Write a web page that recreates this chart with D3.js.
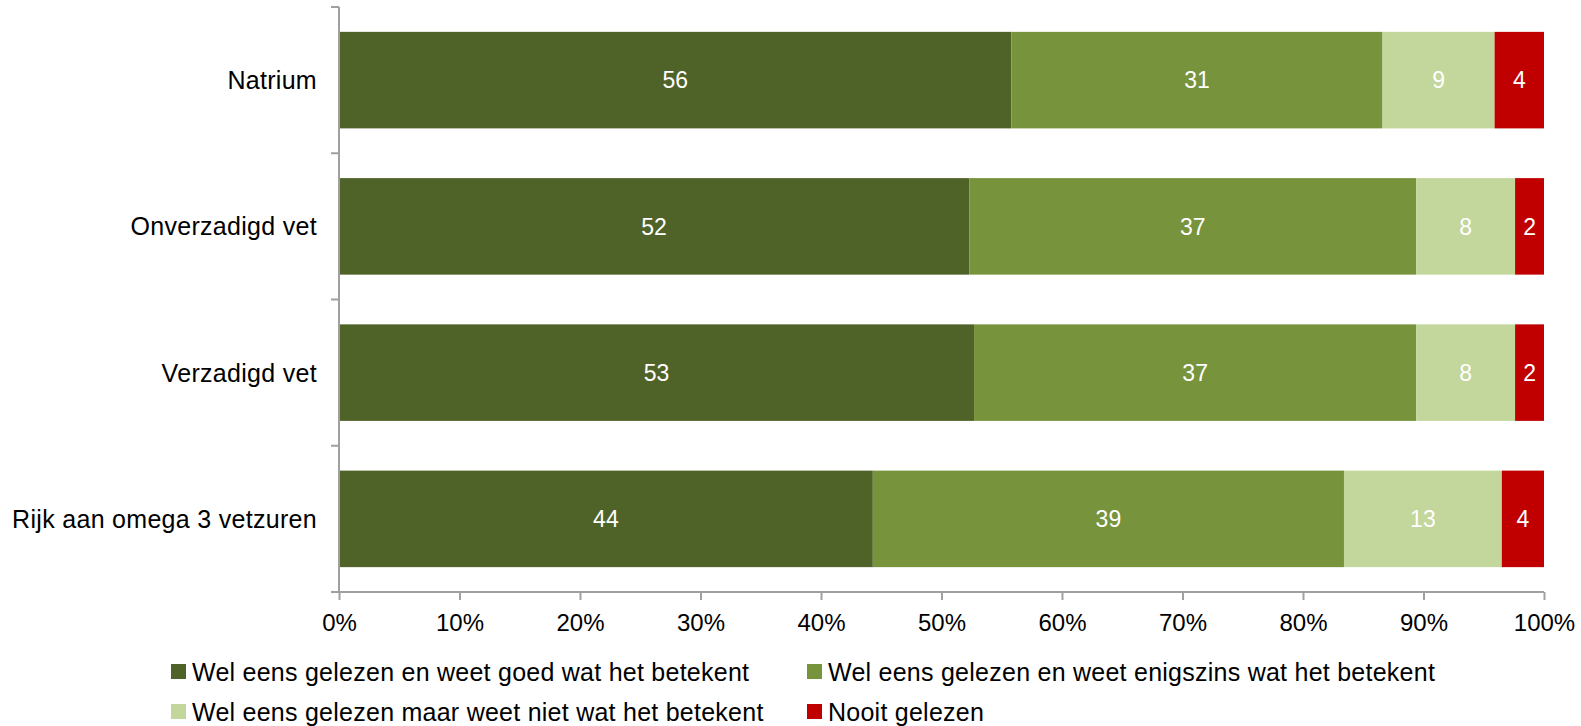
<!DOCTYPE html>
<html lang="nl">
<head>
<meta charset="utf-8">
<title>Gelezen op etiket</title>
<script src="https://d3js.org/d3.v7.min.js"></script>
<style>
  body { margin: 0; background: #fff; }
  svg text { font-family: "Liberation Sans", Arial, sans-serif; }
</style>
</head>
<body>
<div id="graph"></div>
<script>
// categories (top to bottom)
var categories = ["Natrium", "Onverzadigd vet", "Verzadigd vet", "Rijk aan omega 3 vetzuren"];

// series names
var seriesNames = [
  "Wel eens gelezen en weet goed wat het betekent",
  "Wel eens gelezen en weet enigszins wat het betekent",
  "Wel eens gelezen maar weet niet wat het betekent",
  "Nooit gelezen"
];

// series values (percent, per category)
var goed      = [55.8, 52.3, 52.7, 44.3];
var enigszins = [30.8, 37.1, 36.7, 39.1];
var niet      = [9.3, 8.2, 8.2, 13.1];
var nooit     = [4.1, 2.4, 2.4, 3.5];

var tickLabels = ["0%", "10%", "20%", "30%", "40%", "50%", "60%", "70%", "80%", "90%", "100%"];

var colors = ["#4F6228", "#77933C", "#C3D69B", "#C00000"];

// plot area
var W = 1581, H = 726;
var plot = { x0: 339, x1: 1544, y0: 7, y1: 592 };

var svg = d3.select("#graph").append("svg")
  .attr("width", W)
  .attr("height", H);

var rows = categories.map(function(c, i) {
  return { cat: c, s0: goed[i], s1: enigszins[i], s2: niet[i], s3: nooit[i] };
});
var keys = ["s0", "s1", "s2", "s3"];

var stack = d3.stack().keys(keys).offset(d3.stackOffsetExpand);
var series = stack(rows);

var x = d3.scaleLinear().domain([0, 1]).range([plot.x0, plot.x1]);
var y = d3.scaleBand().domain(categories).range([plot.y0, plot.y1]).paddingInner(0.34).paddingOuter(0.17);

// bars
var groups = svg.append("g").selectAll("g")
  .data(series)
  .enter().append("g")
  .attr("fill", function(d, i) { return colors[i]; });

groups.selectAll("rect")
  .data(function(d) { return d; })
  .enter().append("rect")
  .attr("x", function(d) { return x(d[0]); })
  .attr("y", function(d) { return y(d.data.cat); })
  .attr("width", function(d) { return x(d[1]) - x(d[0]); })
  .attr("height", y.bandwidth());

// value labels
var fmt = d3.format(".0f");
groups.each(function(s, i) {
  d3.select(this).selectAll("text")
    .data(s)
    .enter().append("text")
    .attr("x", function(d) { return (x(d[0]) + x(d[1])) / 2; })
    .attr("y", function(d) { return y(d.data.cat) + y.bandwidth() / 2; })
    .attr("dy", "0.36em")
    .attr("text-anchor", "middle")
    .attr("fill", "#fff")
    .style("font-size", "23px")
    .text(function(d) { return fmt(d.data[keys[i]]); });
});

// y axis: line with ticks at band boundaries
var yAxisG = svg.append("g");
yAxisG.append("line")
  .attr("x1", plot.x0).attr("x2", plot.x0)
  .attr("y1", plot.y0).attr("y2", plot.y1)
  .attr("stroke", "#a0a0a0").attr("stroke-width", 2);
var bounds = d3.range(categories.length + 1).map(function(i) {
  return plot.y0 + i * (plot.y1 - plot.y0) / categories.length;
});
yAxisG.selectAll("line.tk")
  .data(bounds)
  .enter().append("line")
  .attr("class", "tk")
  .attr("x1", plot.x0 - 8).attr("x2", plot.x0)
  .attr("y1", function(d) { return d; }).attr("y2", function(d) { return d; })
  .attr("stroke", "#a0a0a0").attr("stroke-width", 2);

yAxisG.selectAll("text")
  .data(categories)
  .enter().append("text")
  .attr("x", 317)
  .attr("y", function(d) { return y(d) + y.bandwidth() / 2; })
  .attr("dy", "0.36em")
  .attr("text-anchor", "end")
  .attr("fill", "#000")
  .style("font-size", "25px")
  .style("letter-spacing", "0.3px")
  .text(function(d) { return d; });

// x axis
var xAxis = d3.axisBottom(x)
  .tickValues(d3.range(0, 1.0001, 0.1))
  .tickSize(8)
  .tickPadding(14)
  .tickFormat(function(d, i) { return tickLabels[i]; });

var xg = svg.append("g")
  .attr("transform", "translate(0," + plot.y1 + ")")
  .call(xAxis);
xg.select(".domain").attr("stroke", "#a0a0a0").attr("stroke-width", 2)
  .attr("d", "M" + (plot.x0 - 8) + ",0H" + plot.x1);
xg.selectAll(".tick line").attr("stroke", "#a0a0a0").attr("stroke-width", 2);
xg.selectAll(".tick text")
  .attr("fill", "#000")
  .style("font-family", "'Liberation Sans', Arial, sans-serif")
  .style("font-size", "24px");

// legend
var legendPos = [[171, 664], [807, 664], [171, 704], [807, 704]];
var legend = svg.append("g").selectAll("g")
  .data(seriesNames)
  .enter().append("g")
  .attr("transform", function(d, i) { return "translate(" + legendPos[i][0] + "," + legendPos[i][1] + ")"; });

legend.append("rect")
  .attr("width", 15).attr("height", 15)
  .attr("fill", function(d, i) { return colors[i]; });

legend.append("text")
  .attr("x", 21)
  .attr("y", 7.5)
  .attr("dy", "0.36em")
  .attr("fill", "#000")
  .style("font-size", "25px")
  .style("letter-spacing", "0.25px")
  .text(function(d) { return d; });
</script>
</body>
</html>
